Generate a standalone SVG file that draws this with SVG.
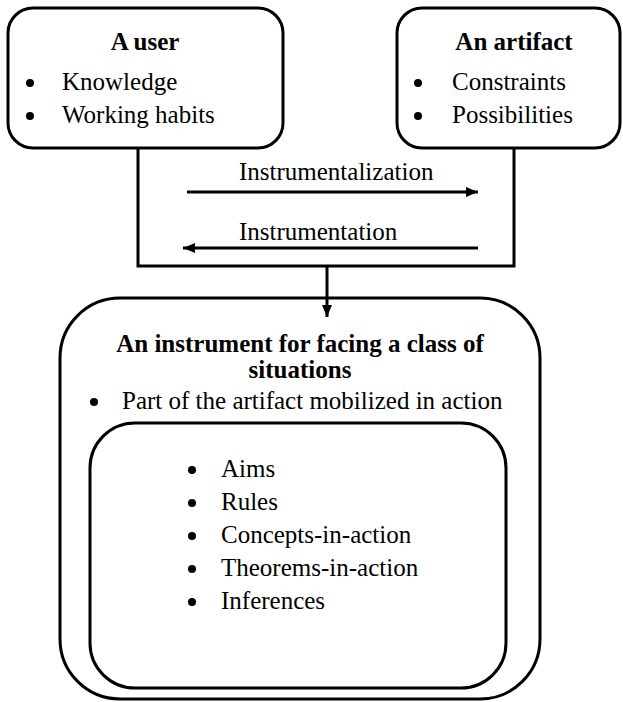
<svg xmlns="http://www.w3.org/2000/svg" width="623" height="702" viewBox="0 0 623 702">
<defs>
<marker id="ah" viewBox="0 0 12 10" refX="12" refY="5" markerWidth="12" markerHeight="10" markerUnits="userSpaceOnUse" orient="auto">
<path d="M0,0 L12,5 L0,10 Z" fill="#000"/>
</marker>
</defs>
<g id="connectors" fill="none" stroke="#000" stroke-width="3">
<polyline points="138,148 138,266 514,266 514,148"/>
<line x1="327" y1="266" x2="327" y2="317" marker-end="url(#ah)"/>
<line x1="187" y1="192" x2="478" y2="192" marker-end="url(#ah)"/>
<line x1="478" y1="248" x2="183" y2="248" marker-end="url(#ah)"/>
</g>
<g id="labels">
<text x="239" y="180" font-family="Times New Roman" font-size="25">Instrumentalization</text>
<text x="239" y="240" font-family="Times New Roman" font-size="25">Instrumentation</text>
</g>
<g id="user">
<rect x="8" y="8" width="275" height="140" rx="25" fill="#fff" stroke="#000" stroke-width="3"/>
<text x="145" y="50" font-family="Times New Roman" font-size="25" font-weight="bold" text-anchor="middle">A user</text>
<circle cx="30" cy="83" r="4"/>
<text x="62" y="90" font-family="Times New Roman" font-size="25">Knowledge</text>
<circle cx="30" cy="116" r="4"/>
<text x="62" y="123" font-family="Times New Roman" font-size="25">Working habits</text>
</g>
<g id="artifact">
<rect x="397" y="8" width="223" height="140" rx="25" fill="#fff" stroke="#000" stroke-width="3"/>
<text x="514" y="50" font-family="Times New Roman" font-size="25" font-weight="bold" text-anchor="middle">An artifact</text>
<circle cx="418" cy="83" r="4"/>
<text x="452" y="90" font-family="Times New Roman" font-size="25">Constraints</text>
<circle cx="418" cy="116" r="4"/>
<text x="452" y="123" font-family="Times New Roman" font-size="25">Possibilities</text>
</g>
<g id="instrument">
<rect x="60" y="298" width="480" height="401" rx="60" fill="none" stroke="#000" stroke-width="3"/>
<text x="300" y="352" font-family="Times New Roman" font-size="25" font-weight="bold" text-anchor="middle">An instrument for facing a class of</text>
<text x="300" y="378" font-family="Times New Roman" font-size="25" font-weight="bold" text-anchor="middle">situations</text>
<circle cx="94" cy="402" r="4"/>
<text x="122" y="409" font-family="Times New Roman" font-size="25">Part of the artifact mobilized in action</text>
</g>
<g id="schemes">
<rect x="90" y="423" width="416" height="265" rx="45" fill="#fff" stroke="#000" stroke-width="3"/>
<circle cx="192" cy="470" r="4"/>
<text x="221" y="477" font-family="Times New Roman" font-size="25">Aims</text>
<circle cx="192" cy="503" r="4"/>
<text x="221" y="510" font-family="Times New Roman" font-size="25">Rules</text>
<circle cx="192" cy="536" r="4"/>
<text x="221" y="543" font-family="Times New Roman" font-size="25">Concepts-in-action</text>
<circle cx="192" cy="569" r="4"/>
<text x="221" y="576" font-family="Times New Roman" font-size="25">Theorems-in-action</text>
<circle cx="192" cy="602" r="4"/>
<text x="221" y="609" font-family="Times New Roman" font-size="25">Inferences</text>
</g>
</svg>
